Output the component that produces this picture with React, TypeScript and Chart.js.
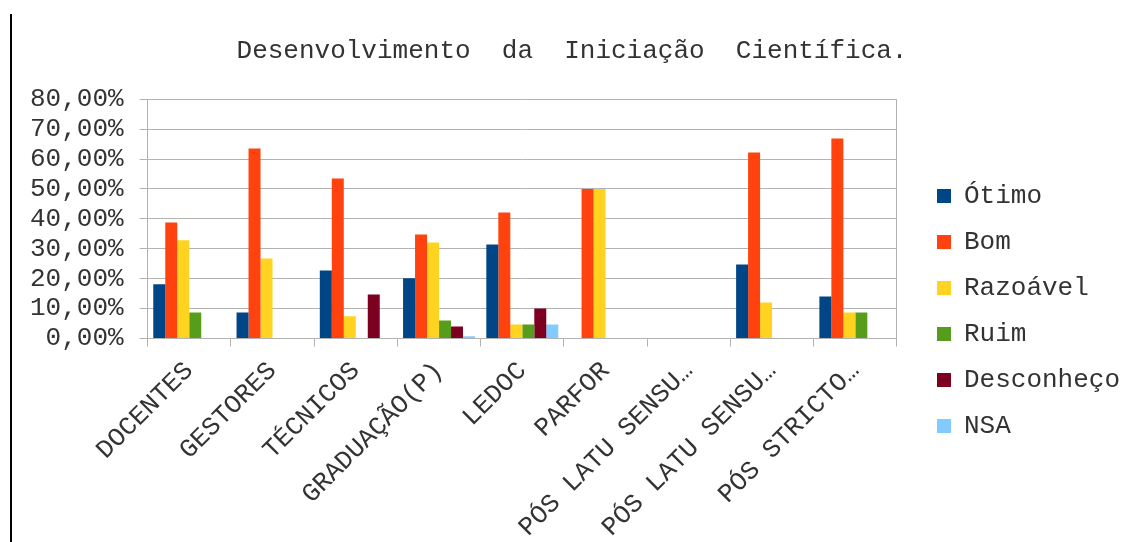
import React, { useEffect, useRef } from "react";
import { Chart, registerables } from "chart.js";

Chart.register(...registerables);

const categories = [
  "DOCENTES",
  "GESTORES",
  "TÉCNICOS",
  "GRADUAÇÃO(P)",
  "LEDOC",
  "PARFOR",
  "PÓS LATU SENSU…",
  "PÓS LATU SENSU…",
  "PÓS STRICTO…",
];

const otimo = [18.1, 8.7, 22.7, 20.1, 31.4, 0, 0, 24.7, 14.0];
const bom = [38.8, 63.5, 53.5, 34.8, 42.1, 50.0, 0, 62.2, 66.9];
const razoavel = [32.8, 26.7, 7.4, 32.1, 4.7, 50.0, 0, 12.0, 8.7];
const ruim = [8.7, 0, 0, 6.0, 4.7, 0, 0, 0, 8.7];
const desconheco = [0, 0, 14.7, 4.0, 10.0, 0, 0, 0, 0];
const nsa = [0, 0, 0, 0.7, 4.7, 0, 0, 0, 0];

const seriesNames = ["Ótimo", "Bom", "Razoável", "Ruim", "Desconheço", "NSA"];
const seriesColors = ["#004586", "#ff420e", "#ffd320", "#579d1c", "#7e0021", "#83caff"];
const seriesValues = [otimo, bom, razoavel, ruim, desconheco, nsa];

const titleText = "Desenvolvimento  da  Iniciação  Científica.";
const yMax = 80;
const yStep = 10;

const FONT = "'Liberation Mono', 'Courier New', monospace";
const GRID = "#b3b3b3";
const TEXT = "#333333";
const LEGEND_GAP = 20;

const legendGapPlugin = {
  id: "legendGap",
  beforeLayout(chart: any) {
    const lg = chart.legend;
    if (lg && !lg._gapPatched) {
      const orig = lg.fit.bind(lg);
      lg.fit = function () {
        orig();
        this.width += LEGEND_GAP;
      };
      lg._gapPatched = true;
    }
  },
  afterLayout(chart: any) {
    const lg = chart.legend;
    if (lg) {
      lg.left += LEGEND_GAP;
    }
  },
};

export default function App() {
  const ref = useRef<HTMLCanvasElement | null>(null);

  useEffect(() => {
    if (!ref.current) return;
    const chart = new Chart(ref.current, {
      type: "bar",
      data: {
        labels: categories,
        datasets: seriesNames.map((name, i) => ({
          label: name,
          data: seriesValues[i],
          backgroundColor: seriesColors[i],
          borderWidth: 0,
          categoryPercentage: 0.864,
          barPercentage: 1.0,
        })),
      },
      plugins: [legendGapPlugin],
      options: {
        animation: false,
        responsive: false,
        devicePixelRatio: 1,
        layout: { padding: { left: 2, right: 0, top: 0, bottom: 0 } },
        plugins: {
          title: {
            display: true,
            text: titleText,
            color: TEXT,
            font: { family: FONT, size: 26, weight: "normal" },
            padding: { top: 22, bottom: 32 },
          },
          legend: {
            display: true,
            position: "right",
            title: {
              display: true,
              text: " ",
              font: { family: FONT, size: 10 },
              padding: { top: 0, bottom: 54 },
            },
            labels: {
              boxWidth: 14,
              boxHeight: 14,
              padding: 20,
              color: TEXT,
              font: { family: FONT, size: 26 },
            },
          },
          tooltip: { enabled: false },
        },
        scales: {
          x: {
            afterFit: (s: any) => {
              s.height = s.height - 10;
            },
            grid: {
              display: true,
              drawOnChartArea: true,
              color: (ctx: any) => (ctx.type === "scale" ? GRID : "rgba(0,0,0,0)"),
              drawTicks: true,
              tickLength: 8,
              tickColor: GRID,
              offset: true,
            },
            border: { display: true, color: GRID, width: 1 },
            ticks: {
              autoSkip: false,
              maxRotation: 45,
              minRotation: 45,
              padding: 9,
              color: TEXT,
              font: { family: FONT, size: 26 },
            },
          },
          y: {
            min: 0,
            max: yMax,
            grid: { color: GRID, lineWidth: 1, tickLength: 8, tickColor: GRID },
            border: { display: true, color: GRID, width: 1 },
            ticks: {
              stepSize: yStep,
              autoSkip: false,
              padding: 16,
              color: TEXT,
              font: { family: FONT, size: 26 },
              callback: (v: any) => Number(v).toFixed(2).replace(".", ",") + "%",
            },
          },
        },
      } as any,
    });
    return () => chart.destroy();
  }, []);

  return (
    <div style={{ position: "absolute", left: 0, top: 0, width: 1130, height: 542, background: "#fff" }}>
      <div style={{ position: "absolute", left: 10, top: 14, width: 2, height: 528, background: "#000" }} />
      <canvas ref={ref} width={1118} height={528} style={{ position: "absolute", left: 12, top: 14 }} />
    </div>
  );
}
